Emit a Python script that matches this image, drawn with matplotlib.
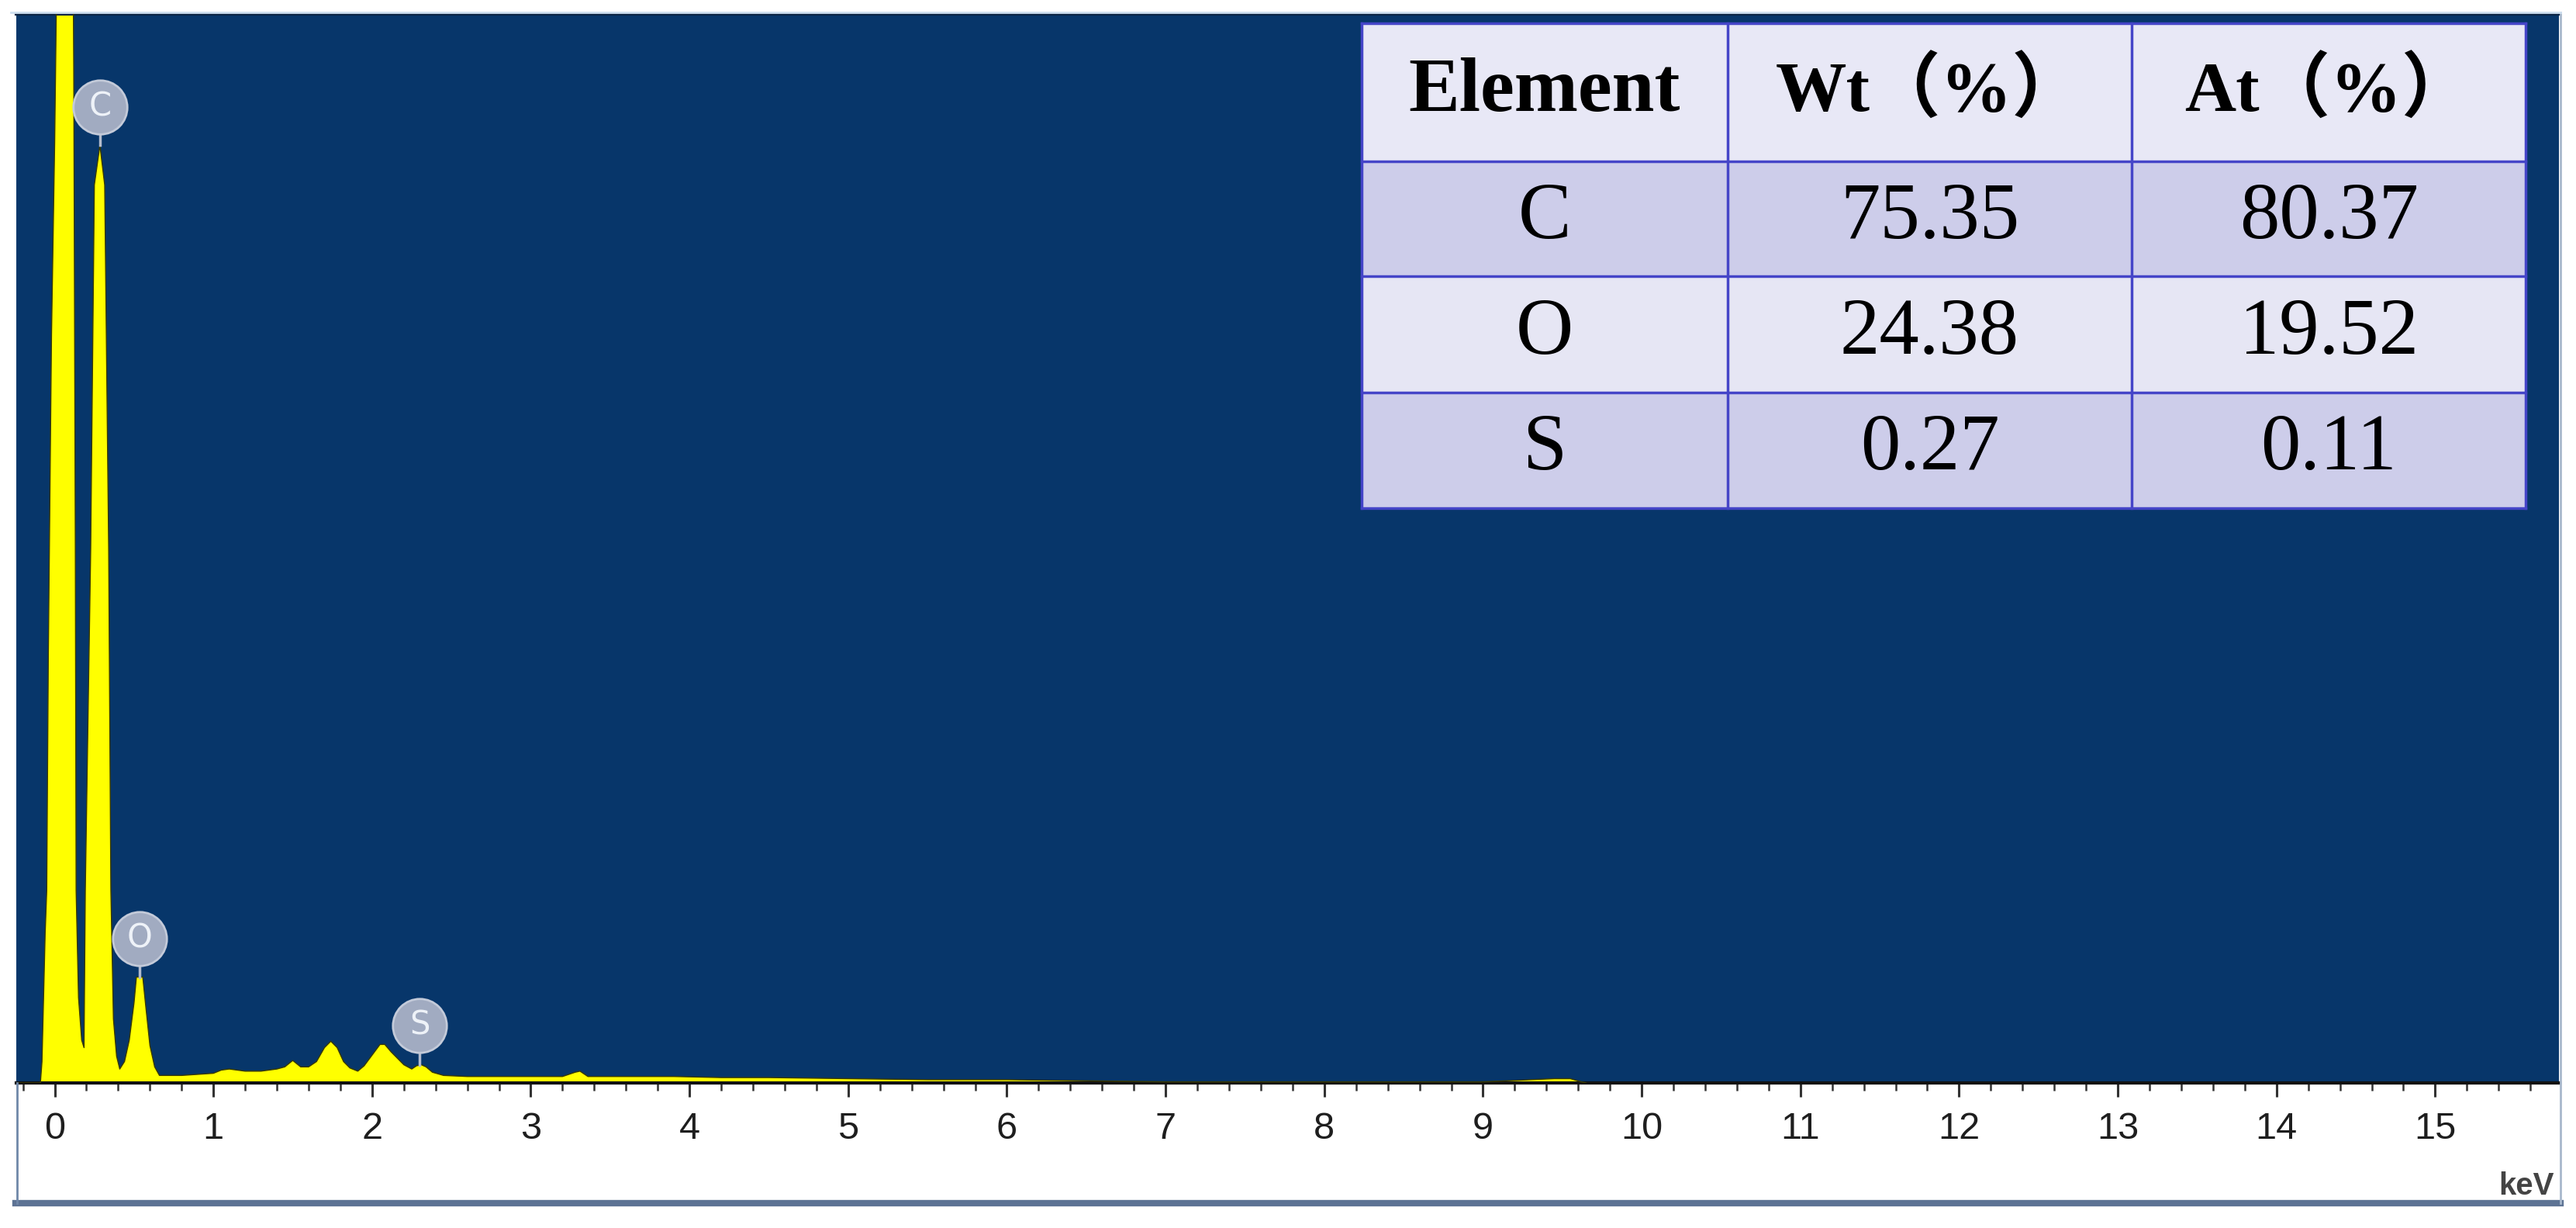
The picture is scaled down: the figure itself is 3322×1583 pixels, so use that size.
import matplotlib.pyplot as plt
from matplotlib import font_manager
from matplotlib.patches import Rectangle
from matplotlib.lines import Line2D
from matplotlib.ticker import MultipleLocator

# EDS spectrum (keV, counts; axis top = 1000)
energy = [-0.24, -0.09, -0.08, -0.07, -0.06, -0.05, -0.04, -0.02, 0.0, 0.01, 0.03,
          0.11, 0.12, 0.13, 0.135, 0.15, 0.17, 0.185, 0.193, 0.227, 0.25, 0.285,
          0.315, 0.34, 0.354, 0.37, 0.39, 0.41, 0.44, 0.47, 0.50, 0.515, 0.555,
          0.575, 0.60, 0.63, 0.66,
          0.70, 0.80, 0.90, 1.00, 1.05, 1.10, 1.20, 1.30, 1.40, 1.45, 1.50,
          1.55, 1.60, 1.65, 1.70, 1.74, 1.78, 1.82, 1.86, 1.91, 1.95, 2.00, 2.05,
          2.08, 2.12, 2.16, 2.20, 2.25, 2.28, 2.31, 2.34, 2.38, 2.45, 2.60, 2.80,
          3.00, 3.20, 3.28, 3.31, 3.36, 3.60, 3.90, 4.20, 4.50, 5.00, 5.50, 6.00,
          6.50, 7.00, 8.00, 9.00, 9.45, 9.55, 9.62, 9.65]
counts = [0, 0, 20, 80, 140, 180, 400, 700, 880, 1000, 1200,
          1200, 950, 500, 180, 80, 40, 33, 180, 500, 840, 877,
          840, 500, 180, 60, 25, 13, 20, 40, 75, 99, 99,
          70, 35, 15, 7,
          7, 7, 8, 9, 12, 13, 11, 11, 13, 15, 21,
          15, 15, 20, 33, 39, 33, 20, 14, 11, 16, 26, 36,
          36, 29, 23, 17, 13, 16, 17, 15, 10, 7, 6, 6,
          6, 6, 10, 11, 6, 6, 6, 5, 5, 4, 3, 3,
          2, 1, 1, 1, 4, 4, 1, 0]

# element markers
peak_names = ['C', 'O', 'S']
peak_kev = [0.286, 0.535, 2.30]
peak_top = [877, 99, 17]
label_y = [913, 135, 54]

# quantification table
headers = ['Element', 'Wt（%）', 'At（%）']
elements = ['C', 'O', 'S']
wt_pct = ['75.35', '24.38', '0.27']
at_pct = ['80.37', '19.52', '0.11']

names = {f.name for f in font_manager.fontManager.ttflist}
narrow = 'Liberation Sans Narrow' if 'Liberation Sans Narrow' in names else 'Liberation Sans'
serif = ['Liberation Serif', 'Noto Sans CJK SC']

W, H = 3323, 1583
fig = plt.figure(figsize=(W / 100, H / 100), dpi=100, facecolor='white')
ax = fig.add_axes([21 / W, (H - 1396) / H, 3279 / W, 1378 / H])
ax.set_facecolor('#07366a')

ax.fill_between(energy, counts, 0, color='#ffff00', lw=0, zorder=2)
ax.plot(energy, counts, color='#3a3a00', lw=1.0, zorder=3)

for name, x, top, y in zip(peak_names, peak_kev, peak_top, label_y):
    ax.plot([x, x], [top, y - 25], color='#b4bccd', lw=2.5, zorder=4)
    ax.plot(x, y, 'o', ms=50, mfc='#a1abc1', mec='#c3cad9', mew=2, zorder=5)
    ax.text(x, y, name, color='#eef2f8', fontsize=30, ha='center', va='center', zorder=6)

ax.set_xlim(-0.242, 15.78)
ax.set_ylim(0, 1000)
ax.xaxis.set_major_locator(MultipleLocator(1))
ax.xaxis.set_minor_locator(MultipleLocator(0.2))
ax.set_yticks([])
ax.tick_params(axis='x', which='major', length=13, width=2.2, color='#333333',
               pad=14, labelsize=35, labelcolor='#1e1e1e')
ax.tick_params(axis='x', which='minor', length=7, width=1.8, color='#333333')
ax.set_xticks(range(0, 16))
for lab in ax.get_xticklabels():
    lab.set_family(narrow)
for side in ['left', 'right']:
    ax.spines[side].set_visible(False)
ax.spines['top'].set_color('#0b2545')
ax.spines['top'].set_linewidth(3)
ax.spines['bottom'].set_color('#111111')
ax.spines['bottom'].set_linewidth(3)

# table drawn in axes coordinates
cols = [0.529, 0.673, 0.832, 0.987]
rows = [0.991, 0.862, 0.755, 0.646, 0.538]
row_colors = ['#e8e8f6', '#cdcdea', '#e6e6f4', '#cdcdea']
cells = [headers] + [[e, w, a] for e, w, a in zip(elements, wt_pct, at_pct)]
for r in range(4):
    ax.add_patch(Rectangle((cols[0], rows[r + 1]), cols[3] - cols[0], rows[r] - rows[r + 1],
                           transform=ax.transAxes, fc=row_colors[r], ec='none', zorder=7))
    for c in range(3):
        if r == 0:
            size = 71 if c == 0 else 66
        else:
            size = 74
        ax.text((cols[c] + cols[c + 1]) / 2, (rows[r] + rows[r + 1]) / 2, cells[r][c],
                transform=ax.transAxes, ha='center', va='center', family=serif,
                fontsize=size, fontweight='bold' if r == 0 else 'normal',
                color='#000000', zorder=9)
for y in rows:
    ax.add_line(Line2D([cols[0], cols[3]], [y, y], transform=ax.transAxes,
                       color='#4545c8', lw=2.5, zorder=8))
for x in cols:
    ax.add_line(Line2D([x, x], [rows[-1], rows[0]], transform=ax.transAxes,
                       color='#4545c8', lw=2.5, zorder=8))

fig.text(3294 / W, (H - 1540) / H, 'keV', ha='right', va='baseline', fontsize=29,
         family=narrow, fontweight='bold', color='#444444')

# window frame around the plot
fig.add_artist(Line2D([20 / W, 3302 / W], [(H - 1551) / H] * 2, color='#5d7394', lw=6))
fig.add_artist(Line2D([22 / W] * 2, [(H - 1551) / H, (H - 1396) / H], color='#6f87a8', lw=2))
fig.add_artist(Line2D([3302 / W] * 2, [(H - 1551) / H, (H - 16) / H], color='#a8b8cc', lw=2))
fig.add_artist(Line2D([14 / W, 3302 / W], [(H - 16) / H] * 2, color='#cfe0f0', lw=2))

fig.savefig('out.png', dpi=100, facecolor='white')
